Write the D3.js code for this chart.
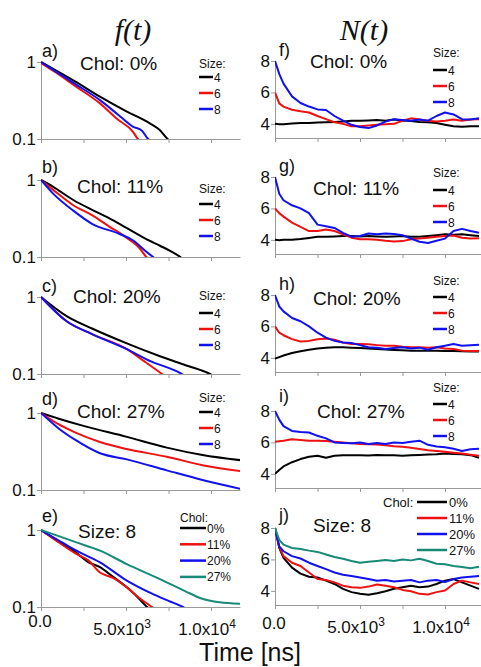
<!DOCTYPE html>
<html>
<head>
<meta charset="utf-8">
<script src="https://cdn.jsdelivr.net/npm/d3@7"></script>
<style>
  body { margin: 0; background: #fff; }
</style>
</head>
<body>
<div id="chart"></div>
<script>
// ---- data: f(t) panels, [time ns, f] ----
var fA4 = [[0,1],[1000,0.75],[2000,0.56],[3470,0.355],[5000,0.23],[6400,0.16],[7000,0.13],[7450,0.1],[7800,0.09]]
var fA6 = [[0,0.97],[1000,0.7],[2000,0.49],[3470,0.29],[4500,0.18],[5400,0.125],[5700,0.1],[6000,0.09]]
var fA8 = [[0,1],[1000,0.72],[2000,0.52],[3470,0.32],[4500,0.21],[5400,0.145],[5940,0.128],[6300,0.1],[6600,0.09]]

var fB4 = [[0,1],[700,0.82],[1900,0.55],[3000,0.41],[4000,0.32],[5000,0.24],[6000,0.18],[7000,0.14],[7600,0.12],[8200,0.1],[8500,0.09]]
var fB6 = [[0,1],[700,0.75],[1900,0.47],[3000,0.35],[4000,0.25],[5000,0.18],[5800,0.13],[6200,0.1],[6500,0.09]]
var fB8 = [[0,1],[700,0.67],[1900,0.4],[3000,0.27],[4600,0.2],[5400,0.165],[6200,0.117],[6600,0.1],[6900,0.09]]

var fC4 = [[0,1],[1530,0.56],[3000,0.39],[5050,0.25],[7000,0.17],[8500,0.13],[9940,0.1],[10300,0.09]]
var fC6 = [[0,1],[1530,0.48],[3000,0.33],[5050,0.21],[6000,0.15],[7120,0.1],[7400,0.09]]
var fC8 = [[0,1],[1530,0.48],[3000,0.33],[5050,0.21],[6500,0.145],[7500,0.12],[8290,0.1],[8600,0.09]]

var fD4 = [[0,1],[1000,0.85],[2500,0.68],[5050,0.49],[7400,0.355],[9500,0.285],[11800,0.243]]
var fD6 = [[0,1],[1000,0.72],[2000,0.56],[3470,0.42],[5050,0.34],[7400,0.27],[9500,0.21],[11800,0.175]]
var fD8 = [[0,1],[1000,0.64],[2000,0.45],[3470,0.3],[5050,0.25],[7400,0.18],[9500,0.135],[11800,0.103]]

var fE0 = [[0,1],[1000,0.72],[2000,0.52],[2800,0.38],[3470,0.33],[4200,0.25],[5050,0.18],[5600,0.14],[6235,0.1],[6500,0.09]]
var fE11 = [[0,1],[1000,0.7],[2000,0.5],[2800,0.4],[3470,0.28],[4200,0.24],[5050,0.18],[5800,0.13],[6530,0.1],[6800,0.09]]
var fE20 = [[0,1],[1000,0.74],[2000,0.55],[3470,0.38],[5050,0.22],[6500,0.15],[7500,0.12],[8350,0.1],[8700,0.09]]
var fE27 = [[0,1],[1000,0.84],[2000,0.7],[3470,0.54],[5050,0.36],[7000,0.23],[8500,0.16],[9400,0.13],[10500,0.115],[11800,0.11]]

// ---- data: N(t) panels, sampled at nTime ----
var nTime = [0,250,500,1000,1500,2000,2500,3000,3500,4000,4500,5000,5500,6000,6500,7000,7500,8000,8500,9000,9500,10000,10500,11000,11500,12000]

var nF4 = [4.0,3.98,3.98,4.02,4.05,4.05,4.08,4.1,4.12,4.15,4.2,4.2,4.22,4.25,4.2,4.28,4.22,4.18,4.12,4.1,4.05,3.95,3.85,3.82,3.85,3.85]
var nF6 = [6.0,5.3,5.1,4.9,4.8,4.72,4.5,4.3,4.1,4.0,3.85,3.85,3.9,3.95,3.98,4.0,4.2,4.35,4.27,4.2,4.15,4.2,4.27,4.2,4.27,4.3]
var nF8 = [8.0,7.18,6.56,5.75,5.33,5.1,4.92,4.88,4.5,4.2,3.94,3.8,3.73,3.9,4.14,4.3,4.25,4.2,4.27,4.2,4.5,4.72,4.6,4.3,4.27,4.35]

var nG4 = [4.0,3.98,4.0,4.0,4.05,4.12,4.2,4.2,4.22,4.25,4.25,4.22,4.25,4.22,4.2,4.22,4.25,4.2,4.2,4.25,4.3,4.35,4.33,4.35,4.3,4.25]
var nG6 = [6.0,5.7,5.48,5.1,4.82,4.56,4.56,4.66,4.56,4.35,4.14,4.04,4.04,4.0,3.94,3.9,3.92,4.04,4.08,4.14,4.2,4.25,4.28,4.14,4.08,4.1]
var nG8 = [8.0,6.93,6.52,6.2,6.0,5.7,4.97,4.87,4.76,4.45,4.2,4.25,4.4,4.35,4.4,4.38,4.29,4.08,3.88,3.8,3.94,4.08,4.56,4.7,4.56,4.45]

var nH4 = [3.95,4.05,4.15,4.31,4.42,4.52,4.6,4.65,4.67,4.67,4.65,4.62,4.6,4.56,4.53,4.5,4.48,4.46,4.46,4.46,4.45,4.44,4.43,4.42,4.41,4.4]
var nH6 = [6.0,5.6,5.44,5.19,5.04,5.08,5.19,5.23,5.15,4.98,4.88,4.88,4.86,4.81,4.77,4.77,4.7,4.67,4.67,4.65,4.67,4.6,4.56,4.46,4.44,4.44]
var nH8 = [8.0,7.27,6.96,6.54,6.33,6.0,5.6,5.29,5.08,4.98,4.94,4.81,4.67,4.65,4.56,4.62,4.67,4.6,4.65,4.52,4.67,4.77,4.88,4.77,4.81,4.83]

var nI4 = [4.0,4.25,4.47,4.74,4.94,5.09,5.15,5.03,5.15,5.19,5.18,5.18,5.17,5.2,5.18,5.18,5.15,5.18,5.2,5.23,5.25,5.29,5.27,5.25,5.19,5.03]
var nI6 = [6.05,6.08,6.11,6.2,6.16,6.11,6.11,6.09,6.05,6.0,5.95,5.9,5.88,5.87,5.82,5.76,5.72,5.66,5.58,5.5,5.45,5.4,5.35,5.3,5.22,5.15]
var nI8 = [8.0,7.45,7.04,6.73,6.67,6.63,6.42,6.26,6.0,5.97,5.95,6.0,5.9,5.97,5.9,6.0,5.97,6.05,6.11,5.85,5.74,5.7,5.6,5.46,5.56,5.6]

var nJ0 = [8.0,6.73,6.1,5.48,5.1,4.9,4.85,4.65,4.44,4.13,3.92,3.81,3.75,3.85,3.98,4.13,4.23,4.33,4.23,4.27,4.44,4.65,4.75,4.54,4.33,4.13]
var nJ11 = [8.0,6.8,6.21,5.79,5.58,5.17,4.75,4.69,4.54,4.33,4.23,4.19,4.27,4.4,4.33,4.23,4.06,3.98,3.81,3.77,3.92,4.02,4.44,4.65,4.54,4.44]
var nJ20 = [8.0,6.83,6.52,6.21,6.06,5.79,5.58,5.38,5.17,5.02,4.94,4.85,4.75,4.65,4.69,4.6,4.65,4.69,4.54,4.65,4.69,4.56,4.75,4.85,4.9,4.94]
var nJ27 = [8.0,7.25,6.94,6.73,6.67,6.56,6.48,6.31,6.15,6.04,5.9,5.79,5.85,5.9,5.96,5.9,6.0,5.94,6.04,5.9,5.73,5.69,5.58,5.52,5.44,5.54]

// ---- labels ----
var sizeLabels = ['4','6','8']
var cholLabels = ['0%','11%','20%','27%']
var panelLetters = ['a)','b)','c)','d)','e)','f)','g)','h)','i)','j)']
var panelTitles = ['Chol: 0%','Chol: 11%','Chol: 20%','Chol: 27%','Size: 8']
var fTicks = [0.1, 1]
var nTicks = [4, 6, 8]
var xTicks = [0, 2500, 5000, 7500, 10000]
var xTickLabels = [[0,'0.0',''],[5000,'5.0x10','3'],[10000,'1.0x10','4']]

// ---- layout ----
var W = 481, H = 667, ph = 77
var sans = 'Arial, "Liberation Sans", sans-serif'
var serif = '"Liberation Serif", "Times New Roman", serif'
var sizeColors = ['#000000','#ee1111','#1111ee']
var cholColors = ['#000000','#ee1111','#1111ee','#178a78']
var leftTops = [62,180,297,413,530]
var rightTops = [61,177,295,411,528]
var titleX = [80,77,73,77,78, 310,313,313,317,313]
var titleDy = [8,13,6,5,8, 7,18,10,7,4]
var letterDy = [-5,-7,-5,-8,-8, -5,-5,-5,-9,-7]
var legHeadDy = [6,13,3,-11, -4,0,-10,-19]
var legRowDy = [15,24,16,-1, 9,13,2,-7]

var svg = d3.select('#chart').append('svg')
    .attr('width', W).attr('height', H)
    .style('font-family', sans)

var xL = d3.scaleLinear().domain([0, 199 / 0.017]).range([41, 240])
var xR = d3.scaleLinear().domain([0, 206 / 0.017]).range([275, 481])

function txt(g, x, y, s, size, anchor) {
  return g.append('text')
    .attr('x', x).attr('y', y)
    .attr('font-size', size)
    .attr('text-anchor', anchor || 'start')
    .attr('fill', '#111')
    .text(s)
}

function panel(i, top, isLeft, series, colors, bottomLabels) {
  var x = isLeft ? xL : xR
  var y = isLeft
    ? d3.scaleLog().domain([0.1, 1]).range([top + ph, top])
    : d3.scaleLinear().domain([3.1, 8]).range([top + ph, top])
  var g = svg.append('g')
  var cid = 'clip' + i
  svg.append('clipPath').attr('id', cid)
    .append('rect')
      .attr('x', x.range()[0]).attr('y', top - 4)
      .attr('width', x.range()[1] - x.range()[0]).attr('height', ph + 4)

  // axes
  g.append('g')
      .attr('transform', 'translate(0,' + (top + ph) + ')')
      .call(d3.axisBottom(x).tickValues(xTicks).tickSize(4).tickSizeOuter(0).tickFormat(''))
  var ya = g.append('g')
      .attr('transform', 'translate(' + x.range()[0] + ',0)')
      .call(d3.axisLeft(y).tickValues(isLeft ? fTicks : nTicks).tickSize(4).tickSizeOuter(0).tickPadding(1)
        .tickFormat(function (d) { return isLeft ? (d === 1 ? '1' : '0.1') : d }))
  g.selectAll('.domain').attr('stroke', '#999')
  g.selectAll('.tick line').attr('stroke', '#999')
  ya.attr('font-family', null)
  ya.selectAll('text').attr('font-size', 17).attr('fill', '#111')

  // curves
  var line = d3.line()
    .x(function (d) { return x(d[0]) })
    .y(function (d) { return y(d[1]) })
    .curve(isLeft ? d3.curveMonotoneX : d3.curveLinear)
  g.append('g').attr('clip-path', 'url(#' + cid + ')')
    .selectAll('path')
      .data(series)
      .enter()
    .append('path')
      .attr('d', line)
      .attr('fill', 'none')
      .attr('stroke', function (d, k) { return colors[k] })
      .attr('stroke-width', 2)
      .attr('stroke-linejoin', 'round')

  // panel letter and title
  txt(g, isLeft ? 42 : 279, top + letterDy[i], panelLetters[i], 18)
  txt(g, titleX[i], top + titleDy[i], panelTitles[i % 5], 19)

  if (bottomLabels) {
    xTickLabels.forEach(function (t) {
      var by = t[0] === 0 ? (isLeft ? 20 : 24) : 28
      var tx = g.append('text')
        .attr('x', x(t[0]) - (t[0] === 0 ? 1 : 4)).attr('y', top + ph + by)
        .attr('font-size', 17).attr('text-anchor', 'middle').attr('fill', '#111')
      tx.append('tspan').text(t[1])
      if (t[2]) tx.append('tspan').attr('dy', -7).attr('font-size', 12).text(t[2])
    })
  }
  return g
}

function sizeLegend(g, j, top, lx) {
  txt(g, lx, top + legHeadDy[j], 'Size:', 12)
  sizeLabels.forEach(function (s, k) {
    var yy = top + legRowDy[j] + k * 16
    g.append('line').attr('x1', lx).attr('x2', lx + 14).attr('y1', yy).attr('y2', yy)
      .attr('stroke', sizeColors[k]).attr('stroke-width', 2.5)
    txt(g, lx + 15, yy + 4.5, s, 12)
  })
}

var fSets = [[fA4,fA6,fA8],[fB4,fB6,fB8],[fC4,fC6,fC8],[fD4,fD6,fD8]]
var nSets = [[nF4,nF6,nF8],[nG4,nG6,nG8],[nH4,nH6,nH8],[nI4,nI6,nI8]]
function zipT(v) { return v.map(function (d, k) { return [nTime[k], d] }) }

fSets.forEach(function (s, j) {
  var g = panel(j, leftTops[j], true, s, sizeColors, false)
  sizeLegend(g, j, leftTops[j], 199)
})
nSets.forEach(function (s, j) {
  var g = panel(j + 5, rightTops[j], false, s.map(zipT), sizeColors, false)
  sizeLegend(g, j + 4, rightTops[j], 433)
})

// panel e
var gE = panel(4, leftTops[4], true, [fE0,fE11,fE20,fE27], cholColors, true)
txt(gE, 180, leftTops[4] - 8, 'Chol:', 12)
cholLabels.forEach(function (c, k) {
  var yy = leftTops[4] - 2 + k * 16.3
  gE.append('line').attr('x1', 180).attr('x2', 206).attr('y1', yy).attr('y2', yy)
    .attr('stroke', cholColors[k]).attr('stroke-width', 2.5)
  txt(gE, 207, yy + 4.5, c, 12)
})

// panel j
var gJ = panel(9, rightTops[4], false, [nJ0,nJ11,nJ20,nJ27].map(zipT), cholColors, true)
txt(gJ, 383, rightTops[4] - 21, 'Chol:', 13)
cholLabels.forEach(function (c, k) {
  var yy = rightTops[4] - 26 + k * 16
  gJ.append('line').attr('x1', 417).attr('x2', 447).attr('y1', yy).attr('y2', yy)
    .attr('stroke', cholColors[k]).attr('stroke-width', 2.5)
  txt(gJ, 449, yy + 5, c, 13)
})

// column titles and x label
svg.append('text').attr('x', 133).attr('y', 40).attr('text-anchor', 'middle')
  .attr('font-size', 30).attr('font-style', 'italic').attr('fill', '#111')
  .style('font-family', serif).text('f(t)')
svg.append('text').attr('x', 364).attr('y', 40).attr('text-anchor', 'middle')
  .attr('font-size', 30).attr('font-style', 'italic').attr('fill', '#111')
  .style('font-family', serif).text('N(t)')
txt(svg, 250, 661, 'Time [ns]', 25, 'middle')
</script>
</body>
</html>
